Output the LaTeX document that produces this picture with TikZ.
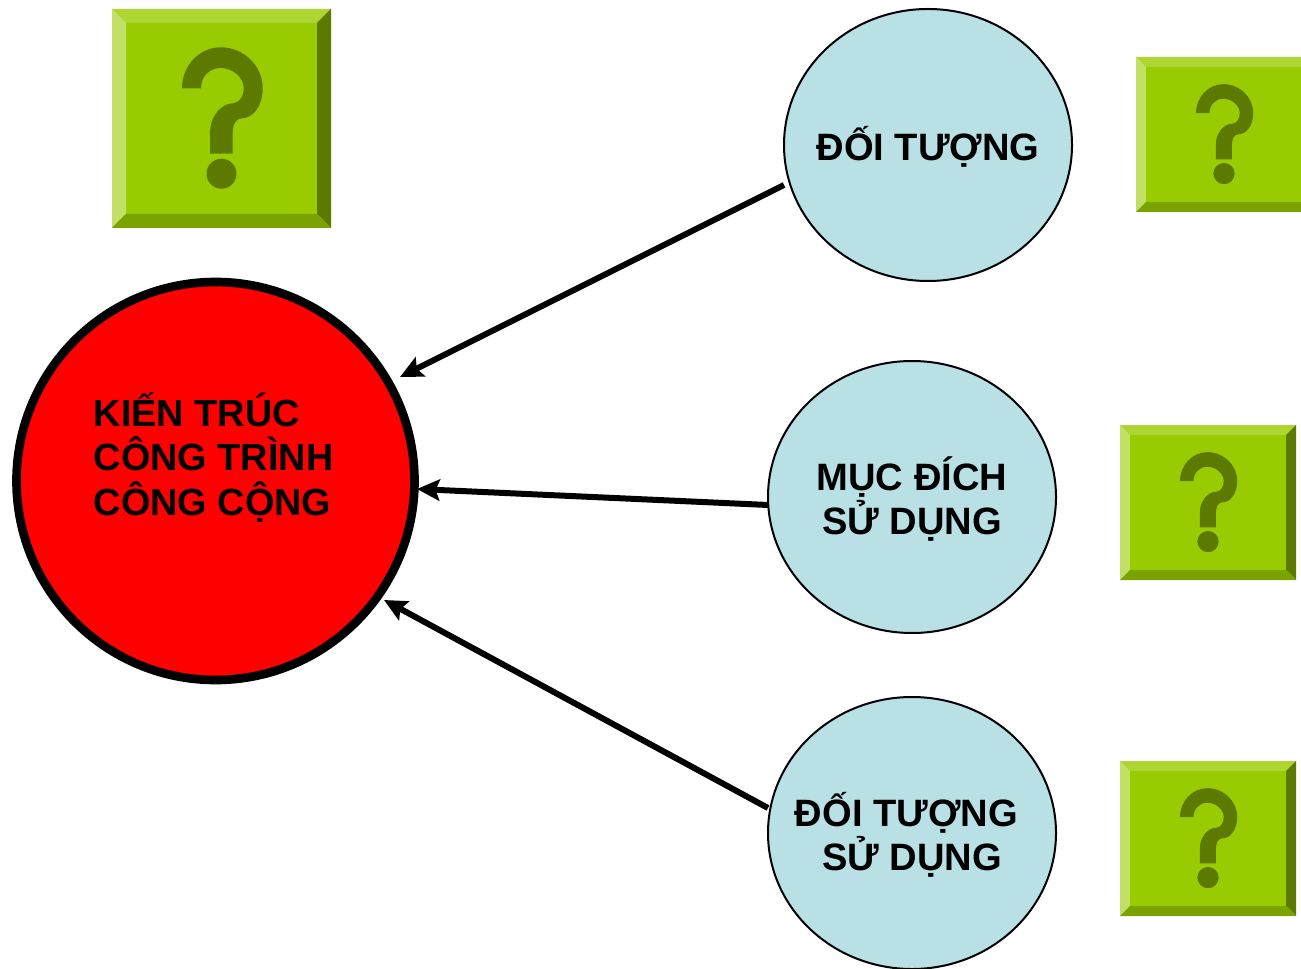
\documentclass[tikz,border=0pt]{standalone}
\usepackage{fontspec}
\setmainfont{Liberation Sans}
\usetikzlibrary{arrows.meta,shapes.geometric}
\definecolor{bMain}{HTML}{99CC00}
\definecolor{bTop}{HTML}{ADD633}
\definecolor{bLeft}{HTML}{C2E066}
\definecolor{bRight}{HTML}{5C7A00}
\definecolor{bBottom}{HTML}{7AA300}
\definecolor{tealFill}{HTML}{B9E0E4}
\newcommand{\qbox}[5]{% cx cy w h scale
  \begin{scope}[shift={(#1,#2)}]
    \pgfmathsetmacro{\hw}{#3/2}\pgfmathsetmacro{\hh}{#4/2}
    \pgfmathsetmacro{\bv}{14*#5}
    \pgfmathsetmacro{\ix}{\hw-\bv}\pgfmathsetmacro{\iy}{\hh-\bv}
    \fill[bMain] (-\hw,-\hh) rectangle (\hw,\hh);
    \fill[bTop] (-\hw,-\hh) -- (\hw,-\hh) -- (\ix,-\iy) -- (-\ix,-\iy) -- cycle;
    \fill[bLeft] (-\hw,-\hh) -- (-\ix,-\iy) -- (-\ix,\iy) -- (-\hw,\hh) -- cycle;
    \fill[bRight] (\hw,-\hh) -- (\hw,\hh) -- (\ix,\iy) -- (\ix,-\iy) -- cycle;
    \fill[bBottom] (-\hw,\hh) -- (\hw,\hh) -- (\ix,\iy) -- (-\ix,\iy) -- cycle;
    \begin{scope}[scale=#5]
      \fill[bRight] (-39.5,-30.2) .. controls (-39.5,-53) and (-22,-71.2) .. (-0.8,-71.2)
        .. controls (22,-71.2) and (41.2,-53) .. (41.2,-30.2)
        .. controls (41.2,-13) and (32,-0.2) .. (20.2,-0.2)
        .. controls (14,-0.2) and (11.2,7) .. (11.2,14.8) -- (11.2,35.2) -- (-11.5,35.2) -- (-11.5,14.8)
        .. controls (-11.5,-3) and (0,-15.2) .. (11.8,-15.2)
        .. controls (18,-16) and (22.2,-22) .. (22.2,-30.2)
        .. controls (22.2,-42) and (10,-50.5) .. (-0.8,-50.5)
        .. controls (-12,-50.5) and (-20.5,-42) .. (-20.5,-30.2) -- cycle;
      \fill[bRight] (0,55.2) circle[radius=15];
    \end{scope}
  \end{scope}}
\tikzset{
  x=0.75pt,y=-0.75pt,
  lbl/.style={font=\fontsize{28.6}{33.4}\selectfont\bfseries,text=black,align=center,inner sep=0pt},
  hublbl/.style={font=\fontsize{28.4}{33.4}\selectfont\bfseries,text=black,align=left,inner sep=0pt},
  bubble/.style={ellipse,draw=black,line width=1.5pt,fill=tealFill,minimum width=216pt,minimum height=204pt,inner sep=0pt,outer sep=0pt},
  hub/.style={circle,draw=black,line width=6.5pt,fill=red,minimum size=298.5pt,inner sep=0pt,outer sep=0pt},
  link/.style={draw=black,line width=4.5pt,-{Stealth[length=17pt,width=16pt,inset=3pt]}}
}
\begin{document}
\begin{tikzpicture}
\useasboundingbox (0,0) rectangle (1301,969);
\clip (0,0) rectangle (1301,969);
\qbox{221.5}{118.5}{219}{219}{1}
\qbox{1224}{134.5}{176}{155}{0.708}
\qbox{1208}{502.5}{176}{155}{0.708}
\qbox{1208}{838.5}{176}{155}{0.708}
\node[hub] (hubnode) at (215.5,481) {};
\node[hublbl,anchor=west] (hublabel) at (93.5,457) {KIẾN TRÚC\\CÔNG TRÌNH\\CÔNG CỘNG};
\node[bubble] (obj) at (928,145) {};
\node[bubble] (use) at (912,497) {};
\node[bubble] (who) at (912,833) {};
\node[lbl] (objlabel) at (928,147) {ĐỐI TƯỢNG};
\node[lbl] (uselabel) at (912,499) {MỤC ĐÍCH\\SỬ DỤNG};
\node[lbl] (wholabel) at (912,835) {ĐỐI TƯỢNG\hspace*{0.29em}\\SỬ DỤNG};
\coordinate (objS) at (784,185);
\coordinate (useS) at (768,505);
\coordinate (whoS) at (768,808);
\coordinate (objE) at (400,377);
\coordinate (useE) at (417,489);
\coordinate (whoE) at (384,600);
\draw[link] (objS) -- (objE);
\draw[link] (useS) -- (useE);
\draw[link] (whoS) -- (whoE);
\end{tikzpicture}
\end{document}
